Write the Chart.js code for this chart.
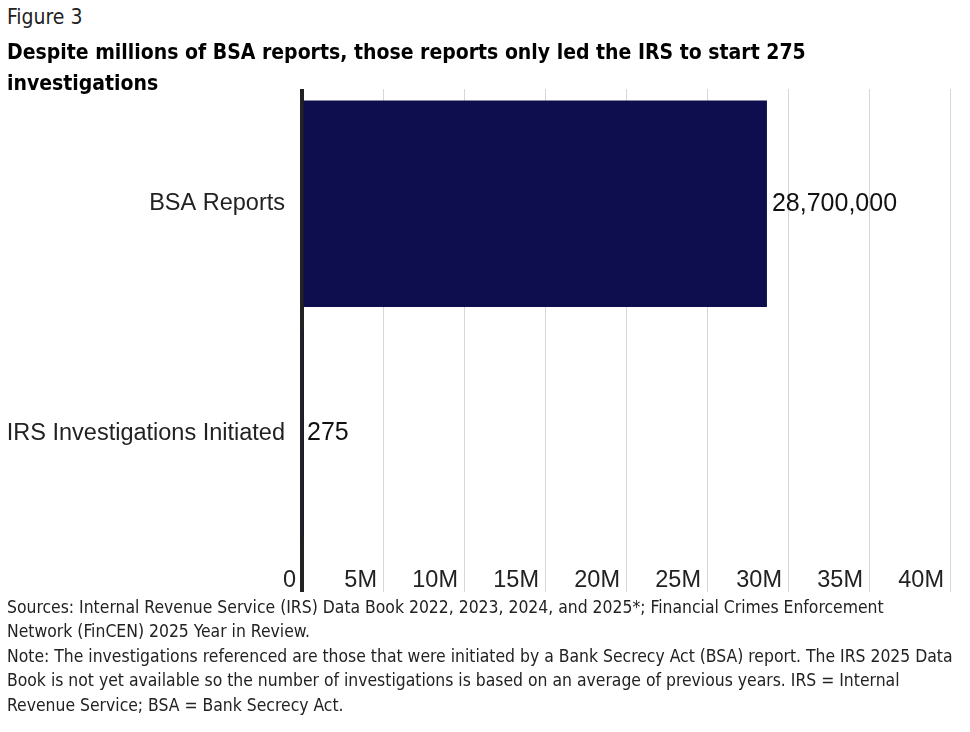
<!DOCTYPE html>
<html>
<head>
<meta charset="utf-8">
<script src="https://cdn.jsdelivr.net/npm/chart.js@4.4.1/dist/chart.umd.min.js"></script>
<style>
  html, body { margin: 0; padding: 0; background: #fff; }
  body { width: 970px; height: 732px; position: relative; overflow: hidden; color: #222; }
  .narrow { font-family: "Liberation Sans Narrow", "DejaVu Sans Condensed", sans-serif; }
  #fig { position: absolute; left: 7px; top: 5px; font-size: 21px; }
  #title { position: absolute; left: 7px; top: 37px; font-size: 21px; font-weight: bold; line-height: 31px; color: #000; z-index: 2; white-space: nowrap; }
  #wrap { position: absolute; left: 0; top: 58px; width: 970px; height: 542px; }
  #foot { position: absolute; left: 7px; top: 595px; font-size: 17.4px; line-height: 24.4px; white-space: nowrap; }
</style>
</head>
<body>
<div id="fig" class="narrow">Figure 3</div>
<div id="title" class="narrow">Despite millions of BSA reports, those reports only led the IRS to start 275<br>investigations</div>
<div id="wrap"><canvas id="chart"></canvas></div>
<div id="foot" class="narrow">Sources: Internal Revenue Service (IRS) Data Book 2022, 2023, 2024, and 2025*; Financial Crimes Enforcement<br>Network (FinCEN) 2025 Year in Review.<br>Note: The investigations referenced are those that were initiated by a Bank Secrecy Act (BSA) report. The IRS 2025 Data<br>Book is not yet available so the number of investigations is based on an average of previous years. IRS = Internal<br>Revenue Service; BSA = Bank Secrecy Act.</div>
<script>
// values
const categories = ['BSA Reports', 'IRS Investigations Initiated'];
const counts = [28700000, 275];
const xTicks = [0, 5000000, 10000000, 15000000, 20000000, 25000000, 30000000, 35000000, 40000000];

const FONT = '"Liberation Sans", Arial, sans-serif';
const INK = '#222';

// value labels to the right of each bar
const barLabels = {
  id: 'barLabels',
  afterDatasetsDraw(chart) {
    const { ctx } = chart;
    const meta = chart.getDatasetMeta(0);
    ctx.save();
    ctx.font = `25px ${FONT}`;
    ctx.fillStyle = '#111';
    ctx.textAlign = 'left';
    ctx.textBaseline = 'middle';
    meta.data.forEach((bar, i) => {
      ctx.fillText(counts[i].toLocaleString('en-US'), bar.x + 5, bar.y);
    });
    ctx.restore();
  },
};

// heavy zero line drawn over the bar base
const zeroLine = {
  id: 'zeroLine',
  afterDatasetsDraw(chart) {
    const { ctx, chartArea } = chart;
    const x = chart.scales.x.getPixelForValue(0) - 0.5;
    ctx.save();
    ctx.strokeStyle = INK;
    ctx.lineWidth = 3;
    ctx.beginPath();
    ctx.moveTo(x, chartArea.top);
    ctx.lineTo(x, chartArea.bottom + 44);
    ctx.stroke();
    ctx.restore();
  },
};

new Chart(document.getElementById('chart'), {
  type: 'bar',
  data: {
    labels: categories,
    datasets: [{
      data: counts,
      backgroundColor: '#0e0d4e',
      borderWidth: 0,
      categoryPercentage: 1,
      barPercentage: 0.9,
    }],
  },
  options: {
    indexAxis: 'y',
    responsive: true,
    maintainAspectRatio: false,
    animation: false,
    layout: { padding: { top: 8, right: 20, bottom: 6, left: 0 } },
    plugins: { legend: { display: false }, tooltip: { enabled: false } },
    scales: {
      x: {
        min: 0,
        max: 40000000,
        afterBuildTicks: s => { s.ticks = xTicks.map(v => ({ value: v })); },
        afterFit: s => { s.height = 46; },
        border: { display: false },
        grid: {
          color: c => (c.index === 0 ? INK : '#d6d6d6'),
          lineWidth: c => (c.index === 0 ? 3 : 1),
          tickLength: 44,
        },
        ticks: {
          autoSkip: false,
          maxRotation: 0,
          align: 'end',
          labelOffset: -6,
          padding: -26,
          color: INK,
          font: { family: FONT, size: 23.5 },
          callback: v => (v === 0 ? '0' : v / 1000000 + 'M'),
        },
      },
      y: {
        afterFit: s => { s.width = 302; },
        border: { display: false },
        grid: { display: false, drawTicks: false },
        ticks: {
          padding: 17,
          color: INK,
          font: { family: FONT, size: 23.5 },
        },
      },
    },
  },
  plugins: [barLabels, zeroLine],
});
</script>
</body>
</html>
